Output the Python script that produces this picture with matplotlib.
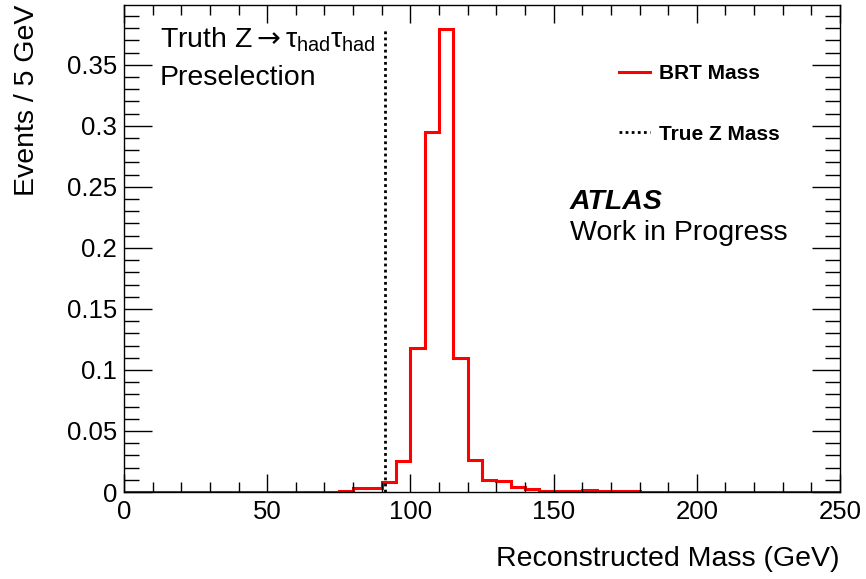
import matplotlib.pyplot as plt
import numpy as np
from matplotlib.ticker import MultipleLocator

# Reconstructed mass histogram, 5 GeV bins from 0 to 250
bin_edges = np.arange(0, 255, 5)
brt_mass = [
    0, 0, 0, 0, 0, 0, 0, 0, 0, 0,            # 0-50
    0, 0, 0, 0, 0.0003, 0.001, 0.003, 0.003,  # 50-90
    0.008, 0.025, 0.118, 0.295, 0.379, 0.110,  # 90-120
    0.026, 0.010, 0.009, 0.0045, 0.0025,       # 120-145
    0.001, 0.001, 0.001, 0.0018, 0.001,        # 145-170
    0.0005, 0.0012, 0.0004, 0.0003, 0.0003,    # 170-195
    0.0002, 0.0001, 0.0001, 0.0001, 0.0001,    # 195-220
    0.0001, 0.0001, 0.0001, 0.0001, 0.0001, 0.0001,  # 220-250
]
z_mass = 91.19
z_line_top = 0.38

plt.rcParams['font.family'] = ['Liberation Sans', 'DejaVu Sans']
plt.rcParams['mathtext.fontset'] = 'custom'
plt.rcParams['mathtext.rm'] = 'Liberation Sans'
plt.rcParams['mathtext.it'] = 'Liberation Sans'
plt.rcParams['mathtext.bf'] = 'Liberation Sans:bold'
plt.rcParams['mathtext.sf'] = 'DejaVu Sans'  # for the arrow glyph

fig = plt.figure(figsize=(8.66, 5.79), dpi=100)
ax = fig.add_axes([124 / 866, 1 - 492 / 579, 716 / 866, 487 / 579])

ax.stairs(brt_mass, bin_edges, baseline=None, color='#ff0000', lw=2.2,
          label='BRT Mass')
ax.vlines(z_mass, 0, z_line_top, colors='black', lw=2,
          linestyles=(0, (1, 1.2)), label='True Z Mass')

ax.set_xlim(0, 250)
ax.set_ylim(0, 0.399)

# ROOT-style ticks on all sides, pointing in
ax.xaxis.set_major_locator(MultipleLocator(50))
ax.xaxis.set_minor_locator(MultipleLocator(10))
ax.yaxis.set_major_locator(MultipleLocator(0.05))
ax.yaxis.set_minor_locator(MultipleLocator(0.01))
ax.tick_params(which='both', direction='in', top=True, right=True,
               labelsize=18.5, width=1)
ax.tick_params(axis='x', which='major', length=13, pad=6)
ax.tick_params(axis='x', which='minor', length=7)
ax.tick_params(axis='y', which='major', length=20, pad=5)
ax.tick_params(axis='y', which='minor', length=11)
ax.yaxis.set_major_formatter(lambda v, p: '0' if v == 0 else f'{v:g}')
for s in ax.spines.values():
    s.set_linewidth(1)

ax.set_xlabel('Reconstructed Mass (GeV)', fontsize=20.5, loc='right')
ax.set_ylabel('Events / 5 GeV', fontsize=20.5, loc='top')
ax.xaxis.set_label_coords(1, -0.111)
ax.yaxis.set_label_coords(-0.118, 1)

ax.legend(loc='upper left', bbox_to_anchor=(619 / 866, 1 - 64 / 579),
          bbox_transform=fig.transFigure, frameon=False,
          prop={'weight': 'bold', 'size': 15}, handlelength=1.5,
          handletextpad=0.4, labelspacing=2.0, borderpad=0,
          borderaxespad=0)

fig.text(160 / 866, 1 - 48 / 579,
         r'Truth Z$\mathsf{\rightarrow}\tau_{\mathrm{had}}\tau_{\mathrm{had}}$',
         fontsize=20.5, ha='left', va='baseline')
fig.text(160 / 866, 1 - 85 / 579, 'Preselection', fontsize=20.5,
         ha='left', va='baseline')
fig.text(570 / 866, 1 - 209 / 579, 'ATLAS', fontsize=20.5,
         fontweight='bold', fontstyle='italic', ha='left', va='baseline')
fig.text(570 / 866, 1 - 240 / 579, 'Work in Progress', fontsize=20.5,
         ha='left', va='baseline')

fig.savefig('out.png', dpi=100)
